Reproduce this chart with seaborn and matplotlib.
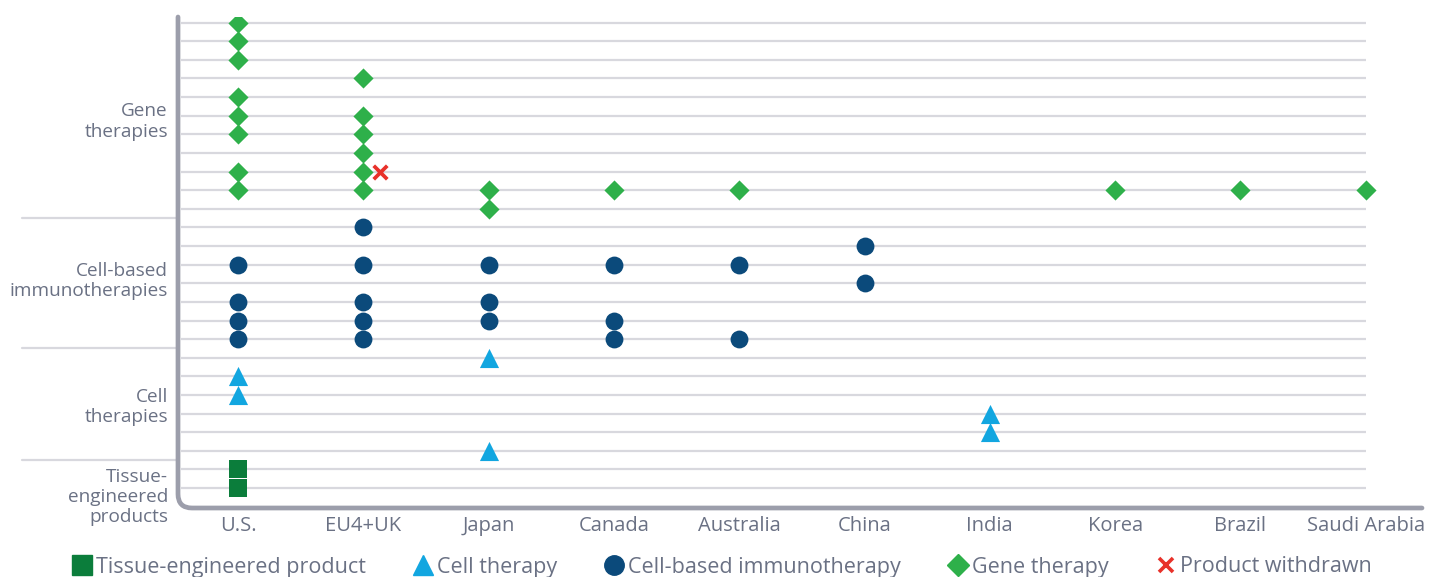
import matplotlib
matplotlib.use("Agg")
import matplotlib.pyplot as plt
from matplotlib.path import Path
from matplotlib.patches import PathPatch
from matplotlib.lines import Line2D
import seaborn as sns
import pandas as pd

sns.set_theme(style="white")
plt.rcParams['font.family'] = ['Open Sans', 'DejaVu Sans']

countries = ["U.S.", "EU4+UK", "Japan", "Canada", "Australia", "China",
             "India", "Korea", "Brazil", "Saudi Arabia"]

tissue_country = ["U.S.", "U.S."]
tissue_row = [0, 1]

cell_country = ["U.S.", "U.S.", "Japan", "Japan", "India", "India"]
cell_row = [5, 6, 2, 7, 3, 4]

immuno_country = ["U.S.", "U.S.", "U.S.", "U.S.",
                  "EU4+UK", "EU4+UK", "EU4+UK", "EU4+UK", "EU4+UK",
                  "Japan", "Japan", "Japan",
                  "Canada", "Canada", "Canada",
                  "Australia", "Australia",
                  "China", "China"]
immuno_row = [8, 9, 10, 12,
              8, 9, 10, 12, 14,
              9, 10, 12,
              8, 9, 12,
              8, 12,
              11, 13]

gene_country = ["U.S."] * 8 + ["EU4+UK"] * 6 + ["Japan", "Japan", "Canada",
                "Australia", "Korea", "Brazil", "Saudi Arabia"]
gene_row = [16, 17, 19, 20, 21, 23, 24, 25,
            16, 17, 18, 19, 20, 22,
            15, 16, 16, 16, 16, 16, 16]

withdrawn_country = ["EU4+UK"]
withdrawn_row = [17]

group_labels = ["Gene\ntherapies", "Cell-based\nimmunotherapies",
                "Cell\ntherapies", "Tissue-\nengineered\nproducts"]
group_label_rows = [19.69, 11.1, 4.37, -0.48]
group_separators = [14.5, 7.5, 1.5]
n_rows = 26

legend_labels = ["Tissue-engineered product", "Cell therapy",
                 "Cell-based immunotherapy", "Gene therapy", "Product withdrawn"]

C_TISSUE = "#0b7d3b"
C_CELL = "#12a6e0"
C_IMMUNO = "#0b4a7b"
C_GENE = "#2eb04a"
C_X = "#e8312a"
C_TEXT = "#6a7184"
C_GRID = "#d8d8de"
C_AXIS = "#9c9eab"

pos = {c: i for i, c in enumerate(countries)}


def frame(cs, rs, dx=0.0):
    return pd.DataFrame({"x": [pos[c] + dx for c in cs], "y": rs})


fig = plt.figure(figsize=(14.29, 5.77), dpi=100)
ax = fig.add_axes([178 / 1429, (577 - 508) / 577, (1422 - 178) / 1429, (508 - 17) / 577])
ax.set_xlim(-0.48, 9.45)
ax.set_ylim(-1.07, 25.3)

# gridlines
ax.hlines(range(n_rows), -0.46, 9.0, color=C_GRID, lw=1.6, zorder=1)

# group separators on left
for s in group_separators:
    ax.plot([-1.725, -0.49], [s, s], color=C_GRID, lw=1.6, clip_on=False, zorder=1)

for lab, r in zip(group_labels, group_label_rows):
    ax.text(-0.56, r, lab, ha="right", va="center", fontsize=13.7, color=C_TEXT,
            linespacing=1.15, clip_on=False)

sns.scatterplot(data=frame(tissue_country, tissue_row), x="x", y="y", marker="s",
                s=150, color=C_TISSUE, linewidth=0, ax=ax, zorder=3)
sns.scatterplot(data=frame(cell_country, cell_row), x="x", y="y", marker="^",
                s=190, color=C_CELL, linewidth=0, ax=ax, zorder=3)
sns.scatterplot(data=frame(immuno_country, immuno_row), x="x", y="y", marker="o",
                s=165, color=C_IMMUNO, linewidth=0, ax=ax, zorder=3)
sns.scatterplot(data=frame(gene_country, gene_row), x="x", y="y", marker="D",
                s=105, color=C_GENE, linewidth=0, ax=ax, zorder=3)
sns.scatterplot(data=frame(withdrawn_country, withdrawn_row, dx=0.13), x="x", y="y",
                marker="x", s=95, color=C_X, linewidth=2.7, ax=ax, zorder=3)

for sp in ax.spines.values():
    sp.set_visible(False)

# rounded-corner axis
rx, ry = 14 / 1244, 14 / 491
verts = [(0, 1.0), (0, ry), (0, 0), (rx, 0), (1.0, 0)]
codes = [Path.MOVETO, Path.LINETO, Path.CURVE3, Path.CURVE3, Path.LINETO]
ax.add_patch(PathPatch(Path(verts, codes), transform=ax.transAxes, fill=False,
                       edgecolor=C_AXIS, lw=3.4, capstyle="round", clip_on=False, zorder=4))

ax.set_xticks(range(len(countries)))
ax.set_xticklabels(countries, fontsize=14.5, color=C_TEXT)
ax.tick_params(axis="x", length=0, pad=6)
ax.set_yticks([])
ax.set_xlabel("")
ax.set_ylabel("")

handles = [
    Line2D([], [], marker="s", ls="", color=C_TISSUE, markersize=15),
    Line2D([], [], marker="^", ls="", color=C_CELL, markersize=15),
    Line2D([], [], marker="o", ls="", color=C_IMMUNO, markersize=14),
    Line2D([], [], marker="D", ls="", color=C_GENE, markersize=11),
    Line2D([], [], marker="x", ls="", color=C_X, markersize=10, markeredgewidth=2.6),
]
fig.legend(handles, legend_labels, loc="center", bbox_to_anchor=(721 / 1429, 10 / 577),
           ncol=5, frameon=False, fontsize=15.5, labelcolor=C_TEXT,
           handletextpad=0.1, columnspacing=2.1, handlelength=1.1, borderpad=0)

fig.savefig("out.png", dpi=100)
